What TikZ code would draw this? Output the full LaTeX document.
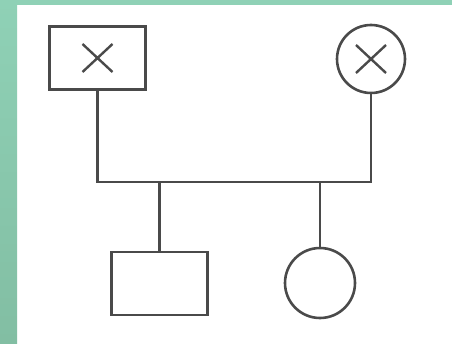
\documentclass[tikz,border=0pt]{standalone}
\usetikzlibrary{positioning}
\definecolor{bandtop}{HTML}{8FD1B6}
\definecolor{bandbot}{HTML}{82BEA3}
\definecolor{pen}{HTML}{4A4A4A}
\tikzset{
  person/.style={draw=pen, line width=2.6pt, inner sep=0pt, fill=white},
  male/.style={person, rectangle, minimum width=96pt, minimum height=63pt},
  female/.style={person, circle, minimum size=#1},
  affected/.style={path picture={
    \draw[pen, line width=2.4pt] ([shift={(-15pt,-14pt)}]path picture bounding box.center) -- ++(30pt,28pt)
      ([shift={(-15pt,14pt)}]path picture bounding box.center) -- ++(30pt,-28pt);}},
  link/.style={draw=pen, line width=2.6pt}
}
\begin{document}
\begin{tikzpicture}[x=1pt,y=1pt]
  \useasboundingbox (0,0) rectangle (452,343);
  % background and green frame
  \fill[white] (0,0) rectangle (452,343);
  \shade[top color=bandtop, bottom color=bandbot] (0,0) rectangle (17,343);
  \fill[bandtop] (0,338) rectangle (452,343);
  % parents
  \node[male, affected] (father) at (97.5,285) {};
  \node[female=68pt, affected] (mother) at (371,284) {};
  % children
  \node[male] (son) at (159.5,59.5) {};
  \node[female=70pt] (daughter) at (320,60) {};
  % lines
  \coordinate (mate) at (240,161);
  \draw[link] (father.south) |- (mate) -| (mother.south);
  \draw[link] (son.north) -- (son.north |- mate);
  \draw[link] (daughter.north) -- (daughter.north |- mate);
\end{tikzpicture}
\end{document}
